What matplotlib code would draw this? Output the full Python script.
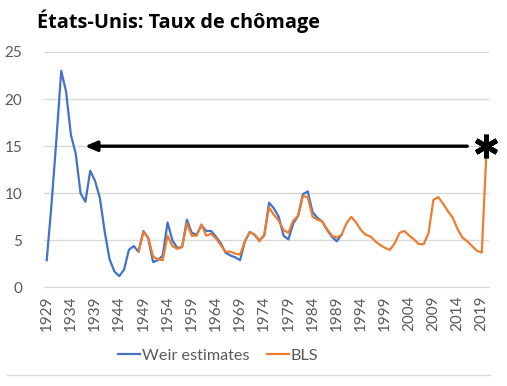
"""
États-Unis: taux de chômage, estimations de Weir et BLS (1929-2020).
"""

import matplotlib
matplotlib.use("Agg")
import matplotlib.pyplot as plt
from matplotlib.lines import Line2D

# Weir estimates, 1929-1990
weir_years = list(range(1929, 1991))
weir_values = [
    2.9, 8.9, 15.7, 23.0, 20.8, 16.2, 14.2, 10.0, 9.1, 12.4,
    11.3, 9.5, 5.9, 3.0, 1.7, 1.2, 1.9, 4.0, 4.4, 3.8,
    6.0, 5.2, 2.7, 2.9, 3.4, 6.9, 5.0, 4.2, 4.3, 7.2,
    5.8, 5.6, 6.6, 6.0, 6.0, 5.4, 4.7, 3.7, 3.4, 3.2,
    2.9, 4.9, 5.9, 5.6, 5.0, 5.5, 9.0, 8.4, 7.5, 5.5,
    5.1, 6.8, 7.6, 9.9, 10.2, 8.0, 7.4, 7.0, 6.1, 5.4,
    4.9, 5.6,
]

# BLS annual rates, 1948-2020 (2020 = April peak)
bls_years = list(range(1948, 2021))
bls_values = [
    3.8, 5.9, 5.3, 3.3, 3.0, 2.9, 5.5, 4.4, 4.1, 4.3,
    6.8, 5.5, 5.5, 6.7, 5.5, 5.7, 5.2, 4.5, 3.8, 3.8,
    3.6, 3.5, 4.9, 5.9, 5.6, 4.9, 5.6, 8.5, 7.7, 7.1,
    6.1, 5.8, 7.1, 7.6, 9.7, 9.6, 7.5, 7.2, 7.0, 6.2,
    5.5, 5.3, 5.6, 6.8, 7.5, 6.9, 6.1, 5.6, 5.4, 4.9,
    4.5, 4.2, 4.0, 4.7, 5.8, 6.0, 5.5, 5.1, 4.6, 4.6,
    5.8, 9.3, 9.6, 8.9, 8.1, 7.4, 6.2, 5.3, 4.9, 4.4,
    3.9, 3.7, 14.7,
]

tick_years = list(range(1929, 2020, 5))
y_ticks = [0, 5, 10, 15, 20, 25]

BLUE = "#4472C4"
ORANGE = "#ED7D31"
GRAY_TXT = "#595959"
GRID = "#D9D9D9"

plt.rcParams["font.family"] = ["Lato", "DejaVu Sans"]

fig = plt.figure(figsize=(5.07, 3.86), dpi=100)
ax = fig.add_axes([0.0874, 0.2552, 0.8771, 0.6101])

ax.plot(weir_years, weir_values, color=BLUE, lw=1.6, solid_joinstyle="round")
ax.plot(bls_years, bls_values, color=ORANGE, lw=1.6, solid_joinstyle="round")

ax.set_xlim(1928.5, 2020.5)
ax.set_ylim(0, 25)
ax.set_yticks(y_ticks)
ax.set_xticks(tick_years)
ax.set_xticklabels([str(y) for y in tick_years], rotation=90)
ax.tick_params(axis="both", length=0, labelsize=11, labelcolor=GRAY_TXT)
ax.tick_params(axis="y", pad=16)
ax.tick_params(axis="x", pad=6)
ax.grid(axis="y", color=GRID, lw=1)
ax.set_axisbelow(True)
for side in ["top", "right", "left"]:
    ax.spines[side].set_visible(False)
ax.spines["bottom"].set_color(GRID)

# arrow pointing back to the 1930s level, asterisk at the 2020 spike
ax.annotate("", xy=(1936.9, 15), xytext=(2016, 15),
            arrowprops=dict(arrowstyle="-|>,head_length=0.7,head_width=0.3",
                            color="black", lw=2.4, shrinkA=0, shrinkB=0))
ax.plot([2019.9], [15], marker=(6, 2, 0), markersize=17, mew=3.6,
        color="black", clip_on=False, zorder=5)

fig.text(0.073, 0.946, "États-Unis: Taux de chômage", fontsize=14.3,
         fontweight="bold", family=["Open Sans", "DejaVu Sans"],
         ha="left", va="center")

handles = [Line2D([], [], color=BLUE, lw=1.6), Line2D([], [], color=ORANGE, lw=1.6)]
fig.legend(handles, ["Weir estimates", "BLS"], loc="center",
           bbox_to_anchor=(0.431, 0.0785), ncol=2, frameon=False,
           fontsize=11.7, labelcolor=GRAY_TXT, handlelength=1.35,
           handletextpad=0.1, columnspacing=1.1, borderpad=0)

# faint slide border under the chart
fig.add_artist(Line2D([0.014, 0.967], [0.028, 0.028], color="#D9D9D9", lw=1))

fig.savefig("out.png", dpi=100)
